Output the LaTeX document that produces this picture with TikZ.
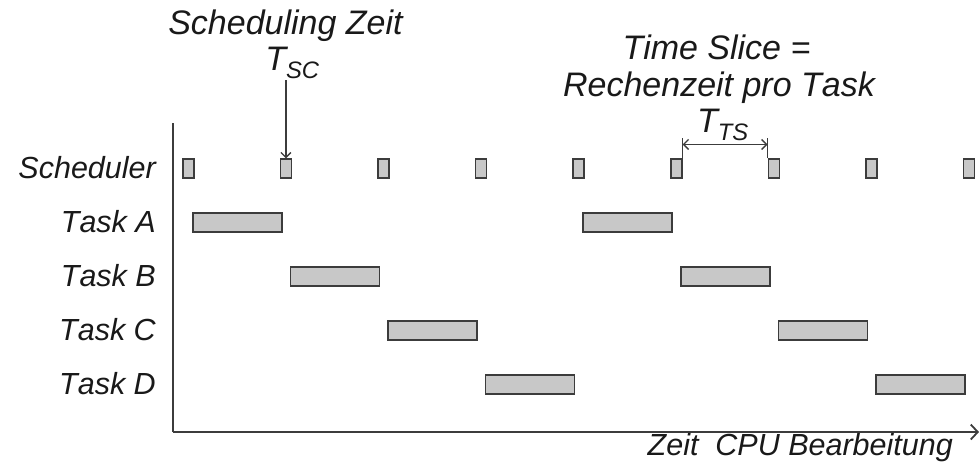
\documentclass[tikz,border=0pt]{standalone}
\usepackage{fontspec}
\setmainfont[Kerning=Off]{Liberation Sans}
\usetikzlibrary{calc}
\usetikzlibrary{arrows.meta}

\definecolor{boxgray}{RGB}{200,200,200}
\definecolor{linegray}{RGB}{60,60,60}

\tikzset{
 sched/.style={draw=linegray, fill=boxgray, line width=1.6pt, minimum width=11pt, minimum height=19pt, inner sep=0, anchor=south west},
 taskbar/.style={sched, minimum width=89pt},
 lbl/.style={font=\itshape\fontsize{30.5}{34}\selectfont, inner sep=0, text=black!90},
 toplbl/.style={font=\itshape\fontsize{34}{38}\selectfont, inner sep=0, text=black!90},
 pfeil/.style={linegray, line width=1.4pt, -{Straight Barb[length=5pt,width=10pt]}},
}

\begin{document}
\begin{tikzpicture} [x=1pt, y=1pt]
\useasboundingbox (-173,-35) rectangle (806,432);
\coordinate (O) at (0,0);
\draw[linegray, line width=1.8pt] (O)--(0,309);
\draw[linegray, line width=1.8pt, -{Straight Barb[length=7pt,width=15pt]}] (O)--(806,0) coordinate (xend);
\node[lbl, anchor=base east] (xlabel) at (780,-23) {Zeit\ \ CPU Bearbeitung};

% scheduler slots
\foreach \i in {0,...,8} {
 \node[sched] (s\i) at (9+97.6*\i,253) {};
}
\node[lbl, anchor=base east] (lsched) at (-17,254) {Scheduler};

% task bars, each task runs twice
\foreach \t/\k/\y in {A/0/209, B/1/155, C/2/101, D/3/47} {
 \node[taskbar] (\t1) at (19+97.6*\k,\y-9.5) {};
 \node[taskbar] (\t2) at (19+97.6*\k+390.4,\y-9.5) {};
 \node[lbl, anchor=base east] (l\t) at (-17,\y-9) {Task \t};
}

% scheduling time
\node[toplbl, anchor=base] (schedzeit) at (112.5,397) {Scheduling Zeit};
\node[toplbl, anchor=base] (tsc) at (119.5,362) {T\textsubscript{SC}};
\draw[pfeil] ($(tsc.south -| s1.north)+(0,-2)$) -- (s1.north);

% time slice
\node[toplbl, anchor=base] (slice) at (543.5,373) {Time Slice =};
\node[toplbl, anchor=base] (rz) at (546,336) {Rechenzeit pro Task};
\node[toplbl, anchor=base] (tts) at (550,300) {T\textsubscript{TS}};
\draw[linegray, line width=1.4pt] (s5.north east) -- ++(0,20) coordinate (ts1);
\draw[linegray, line width=1.4pt] (s6.north west) -- ++(0,20) coordinate (ts2);
\draw[pfeil, {Straight Barb[length=5pt,width=10pt]}-{Straight Barb[length=5pt,width=10pt]}] ($(ts1)+(0,-6)$) -- ($(ts2)+(0,-6)$);
\end{tikzpicture}
\end{document}
